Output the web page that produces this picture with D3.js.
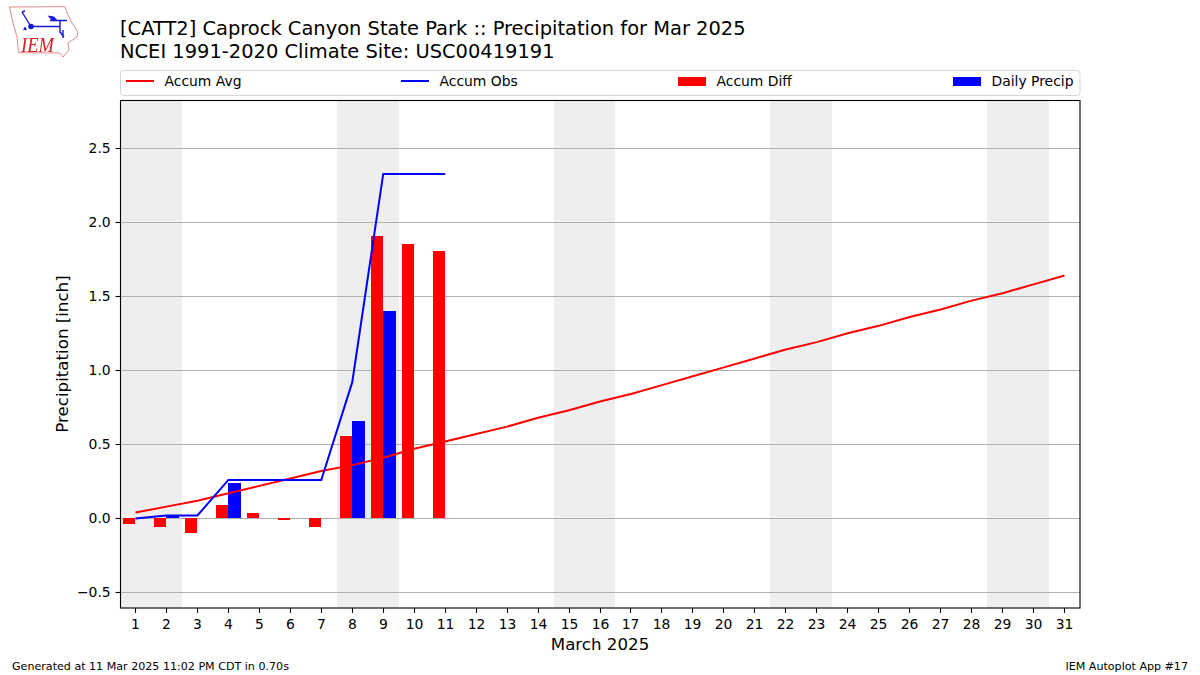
<!DOCTYPE html>
<html><head><meta charset="utf-8">
<script src="https://cdnjs.cloudflare.com/ajax/libs/d3/7.8.5/d3.min.js"></script>
<style>html,body{margin:0;padding:0;background:#fff}svg{display:block}text{font-family:"DejaVu Sans",sans-serif;fill:#000}</style>
</head><body><svg id="c" width="1200" height="675"></svg>
<script>
const days = d3.range(1, 32);
const accumAvg = [0.04,0.08,0.12,0.17,0.22,0.27,0.32,0.36,0.41,0.47,0.52,0.57,0.62,0.68,0.73,0.79,0.84,0.90,0.96,1.02,1.08,1.14,1.19,1.25,1.30,1.36,1.41,1.47,1.52,1.58,1.64];
const accumObs = [0.00,0.02,0.02,0.26,0.26,0.26,0.26,0.92,2.325,2.325,2.325];
const accumDiff = [-0.04,-0.06,-0.10,0.09,0.04,-0.01,-0.06,0.56,1.905,1.855,1.805];
const dailyPrecip = [0,0.02,0,0.24,0,0,0,0.66,1.40,0,0];
const weekendStarts = [1,8,15,22,29];
const yTicks = [-0.5,0,0.5,1.0,1.5,2.0,2.5];
const titleLines = ["[CATT2] Caprock Canyon State Park :: Precipitation for Mar 2025","NCEI 1991-2020 Climate Site: USC00419191"];
const legendItems = [["Accum Avg","line","#f00"],["Accum Obs","line","#00f"],["Accum Diff","bar","#f00"],["Daily Precip","bar","#00f"]];

const svg = d3.select("#c");
const L=120.5,R=1080,T=100.5,B=608;
const x = d3.scaleLinear().domain([0.5,31.5]).range([120,1080]);
const y = d3.scaleLinear().domain([-0.604,2.824]).range([608,100]);
const snap = v => Math.floor(v)+0.5;
const barW = 0.4;

const defs = svg.append("defs");
defs.append("filter").attr("id","soft").append("feGaussianBlur").attr("stdDeviation",0.35);

const plot = svg.append("g");
plot.selectAll("rect.wk").data(weekendStarts).join("rect").attr("class","wk")
 .attr("x",d=>x(d-0.5)).attr("width",d=>x(d+1.5)-x(d-0.5)).attr("y",T).attr("height",B-T).attr("fill","#eeeeee").attr("shape-rendering","crispEdges");
plot.selectAll("line.g").data(yTicks).join("line").attr("class","g")
 .attr("x1",L).attr("x2",R).attr("y1",d=>snap(y(d))).attr("y2",d=>snap(y(d)))
 .attr("stroke","#b0b0b0").attr("stroke-width",1.1);
plot.selectAll("rect.diff").data(accumDiff).join("rect").attr("class","diff")
 .attr("x",(d,i)=>x(days[i]-barW)).attr("width",x(barW)-x(0))
 .attr("y",d=>y(Math.max(d,0))).attr("height",d=>Math.abs(y(d)-y(0))).attr("fill","#f00").attr("shape-rendering","crispEdges");
plot.selectAll("rect.daily").data(dailyPrecip).join("rect").attr("class","daily")
 .attr("x",(d,i)=>x(days[i])).attr("width",x(barW)-x(0))
 .attr("y",d=>y(d)).attr("height",d=>y(0)-y(d)).attr("fill","#00f").attr("shape-rendering","crispEdges");
const line = d3.line().x((d,i)=>x(days[i])).y(d=>y(d));
plot.append("path").attr("d",line(accumAvg)).attr("fill","none").attr("stroke","#f00").attr("stroke-width",2);
plot.append("path").attr("d",line(accumObs)).attr("fill","none").attr("stroke","#00f").attr("stroke-width",2);

svg.append("rect").attr("x",L).attr("y",T).attr("width",R-L).attr("height",B-T).attr("fill","none").attr("stroke","#000").attr("stroke-width",1.1);

const xAxis = d3.axisBottom(x).tickValues(days).tickFormat(d3.format("d")).tickSize(4.9).tickPadding(4.9).offset(0);
const gx = svg.append("g").attr("transform",`translate(0,${B})`).call(xAxis);
const yAxis = d3.axisLeft(y).tickValues(yTicks).tickFormat(d=>d<0?"\u2212"+Math.abs(d).toFixed(1):d.toFixed(1)).tickSize(4.9).tickPadding(4.9).offset(0);
const gy = svg.append("g").attr("transform",`translate(${L},0)`).call(yAxis);
gx.selectAll(".tick").attr("transform",d=>`translate(${snap(x(d))},0)`);
gy.selectAll(".tick").attr("transform",d=>`translate(0,${snap(y(d))})`);
gx.selectAll("text").attr("dy",null).attr("y",20.5);
[gx,gy].forEach(g=>{g.select(".domain").remove();g.selectAll("text").style("font-size","13.9px").style("font-family",'"DejaVu Sans"').attr("fill","#000");g.selectAll("line").attr("stroke","#000").attr("stroke-width",1.1);});

svg.append("text").attr("x",600).attr("y",650).attr("text-anchor","middle").style("font-size","16.67px").text("March 2025");
svg.append("text").attr("transform","translate(68,354) rotate(-90)").attr("text-anchor","middle").style("font-size","16.67px").text("Precipitation [inch]");
titleLines.forEach((t,i)=>svg.append("text").attr("x",120).attr("y",35+i*23).style("font-size","19.46px").text(t));

svg.append("rect").attr("x",120.5).attr("y",70.5).attr("width",959.5).attr("height",25).attr("rx",3).attr("fill","#fff").attr("stroke","#d6d6d6");
const legendX=[126,401,678,953];
legendItems.forEach((d,i)=>{
 const g=svg.append("g");
 if(d[1]==="line") g.append("line").attr("x1",legendX[i]).attr("x2",legendX[i]+28).attr("y1",81).attr("y2",81).attr("stroke",d[2]).attr("stroke-width",2);
 else g.append("rect").attr("x",legendX[i]).attr("y",77).attr("width",28).attr("height",9).attr("fill",d[2]);
 g.append("text").attr("x",legendX[i]+38.5).attr("y",86).style("font-size","13.9px").text(d[0]);
});
svg.append("text").attr("x",12).attr("y",670).style("font-size","11.1px").text("Generated at 11 Mar 2025 11:02 PM CDT in 0.70s");
svg.append("text").attr("x",1188).attr("y",670).attr("text-anchor","end").style("font-size","11.1px").text("IEM Autoplot App #17");

// IEM logo
const logo=svg.append("g").attr("filter","url(#soft)");
logo.append("path").attr("d","M9.5 7 L65 6.7 L68 15 L72 23 L78 32 L77 37 L68 43 L69 50 L63 57 L60 53 L18.5 52.7 L17 37 L13 23 Z").attr("fill","#fff").attr("stroke","#e08a8a").attr("stroke-width",1);
logo.append("text").attr("x",21).attr("y",52).attr("textLength",33).attr("lengthAdjust","spacingAndGlyphs").style("font-family",'"Liberation Serif",serif').style("font-style","italic").style("font-size","21px").style("fill","#d42020").text("IEM");
logo.append("path").attr("d","M32 26.5 H60 M50 20.5 H67 M60 20.5 V33 M22 12 L30 25 M22 12 L25 11 M60 32 L64 37 M63 30 V38").attr("stroke","#1515d8").attr("stroke-width",1.4).attr("fill","none");
logo.append("path").attr("d","M47.5 15.5 L54 16.5 L58 21 L52 20.5 Z").attr("fill","#1515d8");
logo.append("circle").attr("cx",31).attr("cy",26.5).attr("r",2.8).attr("fill","#1515d8");
logo.append("path").attr("d","M23 30 l2 -3.5 l2 3.5 Z").attr("fill","#1515d8");
</script></body></html>
